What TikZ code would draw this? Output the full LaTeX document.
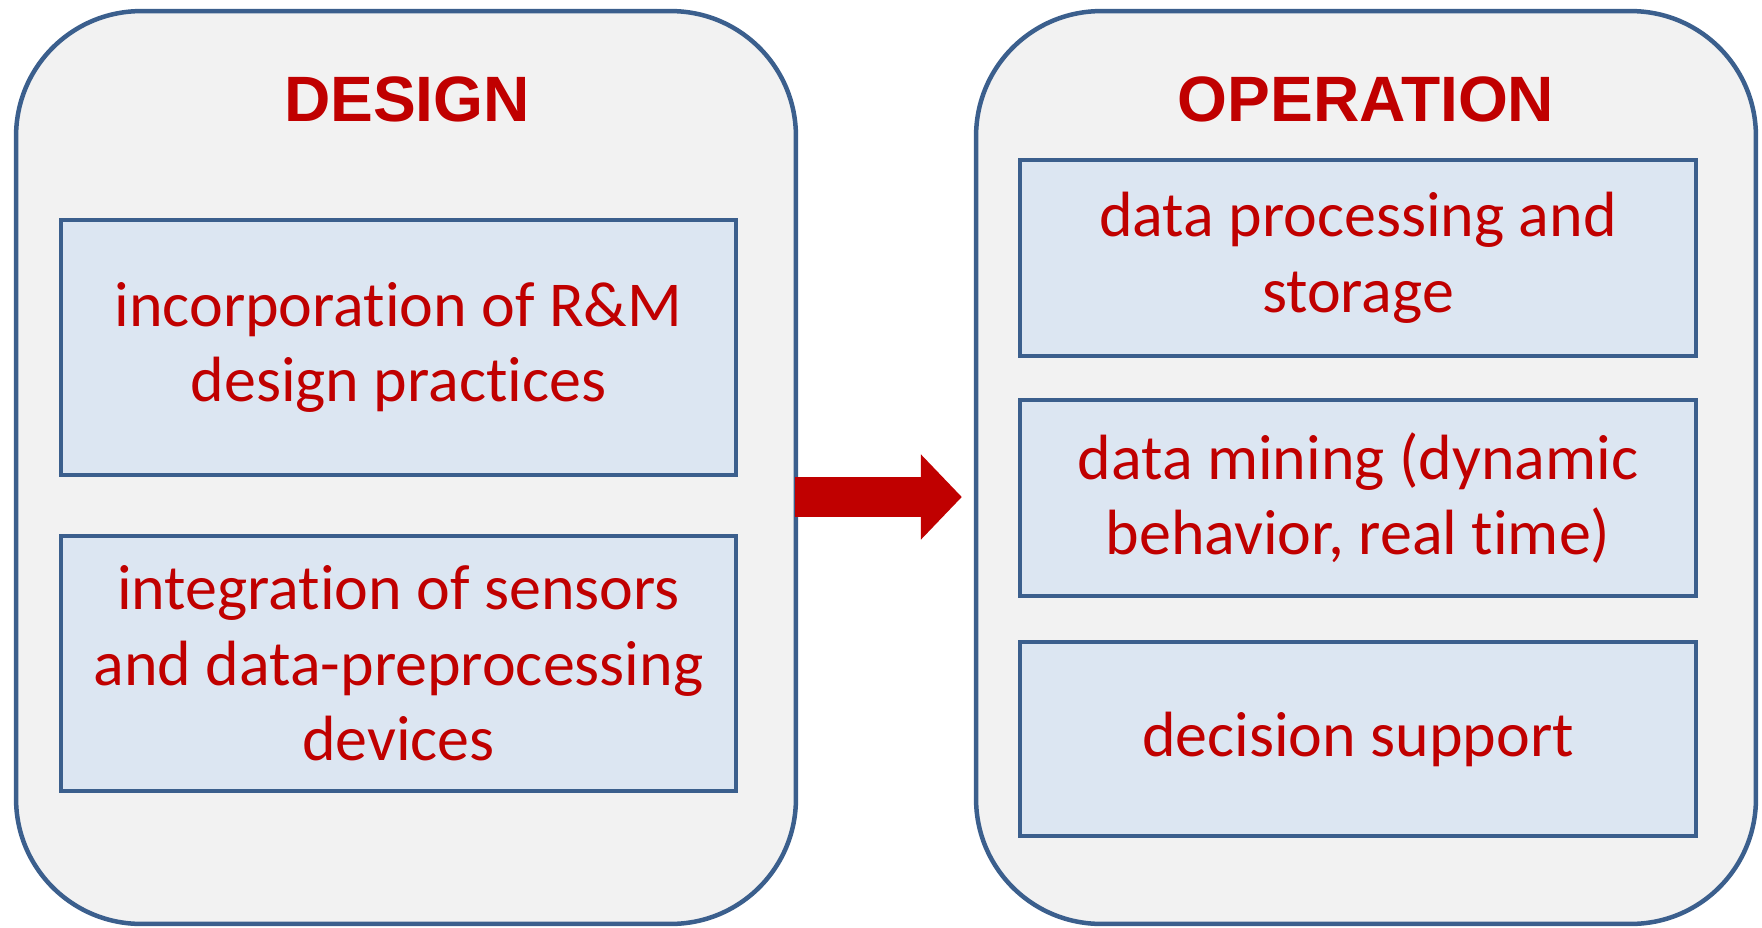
\documentclass[tikz,border=0pt]{standalone}
\usepackage{fontspec}
\setmainfont{Carlito}[Ligatures = NoCommon]
\newfontfamily\titlefont{Liberation Sans}
\usetikzlibrary{arrows.meta}

\definecolor{frameblue}{HTML}{3B5F8D}
\definecolor{panelgray}{HTML}{F2F2F2}
\definecolor{boxblue}{HTML}{DCE6F2}
\definecolor{darkred}{HTML}{C00000}

\tikzset{
	panel/.style = {draw = frameblue, fill = panelgray, line width = 0.09cm, rounded corners = 2.5cm, minimum width = 15.6cm, minimum height = 18.26cm, inner sep = 0pt},
	title/.style = {text = darkred, font = \titlefont\bfseries\fontsize{36.5}{40}\selectfont},
	task/.style = {draw = frameblue, fill = boxblue, line width = 0.09cm, text = darkred, align = center, inner sep = 0pt, font = \fontsize{36.4}{43}\selectfont},
	bigarrow/.style = {draw = darkred, line width = 0.8cm, -{Triangle[length = 0.82cm, width = 1.66cm]}}
}

\begin{document}
\begin{tikzpicture}[x = 0.02cm, y = -0.02cm]
		\useasboundingbox (0,0) rectangle (1762,927);
		\node[panel] (design) at (406,467.5) {};
		\node[panel] (operation) at (1366,467.5) {};
		\node[title] (designtitle) at (407,99) {DESIGN};
		\node[title] (operationtitle) at (1366,99) {OPERATION};
		\node[task, minimum width = 13.5cm, minimum height = 5.1cm] (rmpractice) at (398.5,347.5) {incorporation of R\&M\\design practices};
		\node[task, minimum width = 13.5cm, minimum height = 5.1cm] (sensors) at (398.5,663.5) {integration of sensors\\and data-preprocessing\\devices};
		\node[task, minimum width = 13.52cm, minimum height = 3.92cm] (storage) at (1358,258) {data processing and\\storage};
		\node[task, minimum width = 13.52cm, minimum height = 3.92cm] (mining) at (1358,498) {data mining (dynamic\\behavior, real time)};
		\node[task, minimum width = 13.52cm, minimum height = 3.88cm] (decision) at (1358,739) {decision support};
		\draw[bigarrow, shorten < = -0.06cm, shorten > = 0.24cm] ([yshift = -0.59cm]design.east) -- ([yshift = -0.59cm]operation.west);
	\end{tikzpicture}
\end{document}
